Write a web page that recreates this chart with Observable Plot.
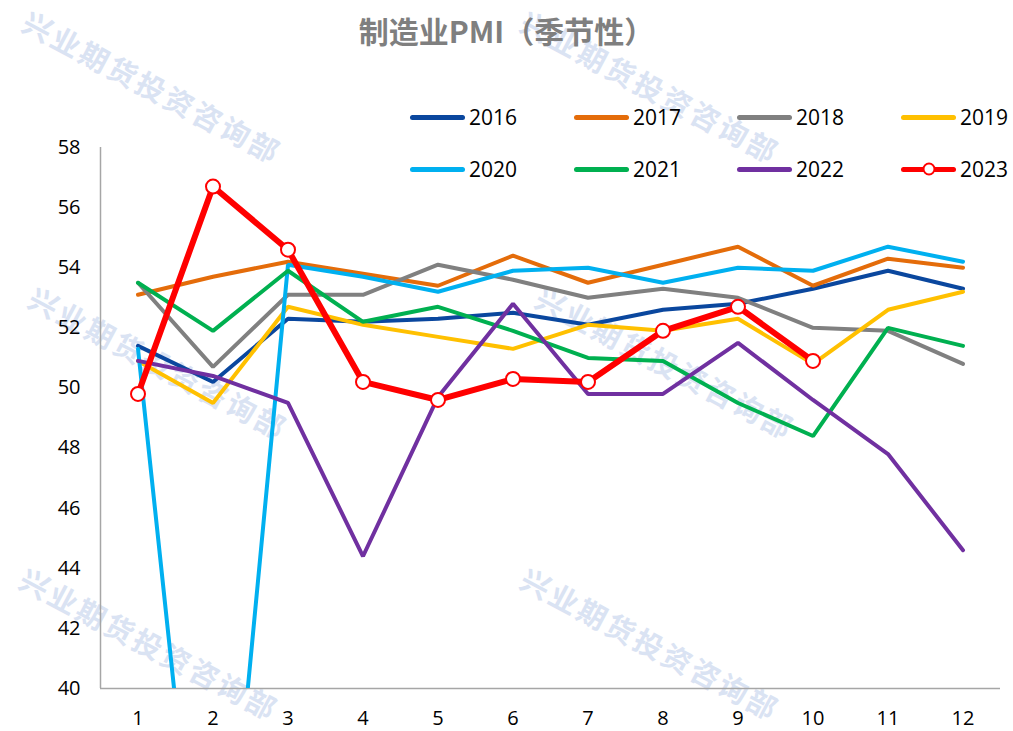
<!DOCTYPE html>
<html>
<head>
<meta charset="utf-8">
<script src="https://cdn.jsdelivr.net/npm/d3@7"></script>
<script src="https://cdn.jsdelivr.net/npm/@observablehq/plot@0.6"></script>
<style>
  html, body { margin: 0; padding: 0; background: #fff; }
  #wrap { position: relative; width: 1013px; height: 731px; overflow: hidden; font-family: "Open Sans", "Noto Sans", sans-serif; }
  #title { position: relative; z-index: 2; height: 62px; line-height: 60px; text-align: center; font-family: "Noto Sans CJK SC", sans-serif; font-weight: bold; font-size: 30px; color: #7f7f7f; }
  #chart { position: relative; z-index: 1; }
  #chart svg { background: transparent !important; }
  .wm { position: absolute; z-index: 0; transform: translate(-50%, -50%) rotate(28deg); font-family: "Noto Sans CJK SC", sans-serif; font-weight: bold; font-size: 29px; line-height: 32px; letter-spacing: 3px; color: #dae3f3; white-space: nowrap; pointer-events: none; }
  #legend { position: absolute; z-index: 3; left: 0; top: 0; width: 1013px; height: 200px; pointer-events: none; }
  .item { position: absolute; display: flex; align-items: center; height: 30px; transform: translateY(-50%); }
  .swatch { position: relative; width: 55px; height: 5px; border-radius: 3px; }
  .swatch .dot { position: absolute; left: 50%; top: 50%; width: 9px; height: 9px; transform: translate(-50%, -50%); border-radius: 50%; background: #fff; border: 2px solid #ff0000; }
  .label { margin-left: 4px; font-size: 21px; color: #000; }
</style>
</head>
<body>
<div id="wrap">
  <div id="title">制造业PMI（季节性）</div>
  <div id="chart"></div>
  <div id="legend"></div>
</div>
<script>
// ---- data ----
const months = [1, 2, 3, 4, 5, 6, 7, 8, 9, 10, 11, 12];
const years = ["2016", "2017", "2018", "2019", "2020", "2021", "2022", "2023"];
const colors = ["#0a479e", "#e46c0a", "#808080", "#ffc000", "#00b0f0", "#00b050", "#7030a0", "#ff0000"];
const v2016 = [51.4, 50.2, 52.3, 52.2, 52.3, 52.5, 52.1, 52.6, 52.8, 53.3, 53.9, 53.3];
const v2017 = [53.1, 53.7, 54.2, 53.8, 53.4, 54.4, 53.5, 54.1, 54.7, 53.4, 54.3, 54.0];
const v2018 = [53.5, 50.7, 53.1, 53.1, 54.1, 53.6, 53.0, 53.3, 53.0, 52.0, 51.9, 50.8];
const v2019 = [50.9, 49.5, 52.7, 52.1, 51.7, 51.3, 52.1, 51.9, 52.3, 50.8, 52.6, 53.2];
const v2020 = [51.3, 27.8, 54.1, 53.7, 53.2, 53.9, 54.0, 53.5, 54.0, 53.9, 54.7, 54.2];
const v2021 = [53.5, 51.9, 53.9, 52.2, 52.7, 51.9, 51.0, 50.9, 49.5, 48.4, 52.0, 51.4];
const v2022 = [50.9, 50.4, 49.5, 44.4, 49.7, 52.8, 49.8, 49.8, 51.5, 49.6, 47.8, 44.6];
const v2023 = [49.8, 56.7, 54.6, 50.2, 49.6, 50.3, 50.2, 51.9, 52.7, 50.9];
const yTicks = [40, 42, 44, 46, 48, 50, 52, 54, 56, 58];
const watermark = "兴业期货投资咨询部";

const series = [v2016, v2017, v2018, v2019, v2020, v2021, v2022, v2023];
const rows = [];
series.forEach((vals, i) => vals.forEach((v, j) => rows.push({year: years[i], month: months[j], value: v})));
const past = rows.filter(d => d.year !== "2023");
const cur = rows.filter(d => d.year === "2023");

// ---- watermarks (decoration) ----
const wrap = document.getElementById("wrap");
[[153, 86], [651, 86], [159, 362], [666, 362], [150, 643], [651, 643]].forEach(([cx, cy]) => {
  const w = document.createElement("div");
  w.className = "wm";
  w.style.left = cx + "px";
  w.style.top = cy + "px";
  w.textContent = watermark;
  wrap.insertBefore(w, wrap.firstChild);
});

// ---- chart ----
const chart = Plot.plot({
  width: 1013,
  height: 669,
  marginTop: 85,
  marginBottom: 43,
  marginLeft: 100,
  marginRight: 13,
  style: {fontFamily: "'Open Sans', 'Noto Sans', sans-serif", fontSize: "20px", color: "#000", background: "transparent"},
  x: {domain: [0.5, 12.5], axis: null},
  y: {domain: [40, 58], axis: null},
  color: {domain: years, range: colors},
  marks: [
    Plot.axisY({ticks: yTicks, tickSize: 0, tickPadding: 20, tickFormat: d => String(d), label: null, fontSize: 20}),
    Plot.axisX({ticks: months, tickSize: 0, tickPadding: 22, tickFormat: d => String(d), label: null, fontSize: 20}),
    Plot.ruleX([0.5], {stroke: "#a6a6a6", strokeWidth: 1.5}),
    Plot.ruleY([40], {stroke: "#a6a6a6", strokeWidth: 1.5}),
    Plot.line(past, {x: "month", y: "value", z: "year", stroke: "year", strokeWidth: 4, strokeLinejoin: "miter", clip: true}),
    Plot.line(cur, {x: "month", y: "value", stroke: "year", strokeWidth: 6, strokeLinejoin: "miter", clip: true}),
    Plot.dot(cur, {x: "month", y: "value", r: 7, fill: "#fff", stroke: "#ff0000", strokeWidth: 2})
  ]
});
document.getElementById("chart").appendChild(chart);

// ---- legend ----
const legend = document.getElementById("legend");
const colX = [410, 574, 737, 901];
const rowY = [117, 169];
years.forEach((y, i) => {
  const item = document.createElement("div");
  item.className = "item";
  item.style.left = colX[i % 4] + "px";
  item.style.top = rowY[Math.floor(i / 4)] + "px";
  const sw = document.createElement("div");
  sw.className = "swatch";
  sw.style.background = colors[i];
  if (y === "2023") {
    const dot = document.createElement("div");
    dot.className = "dot";
    sw.appendChild(dot);
  }
  const lab = document.createElement("span");
  lab.className = "label";
  lab.textContent = y;
  item.appendChild(sw);
  item.appendChild(lab);
  legend.appendChild(item);
});
</script>
</body>
</html>
